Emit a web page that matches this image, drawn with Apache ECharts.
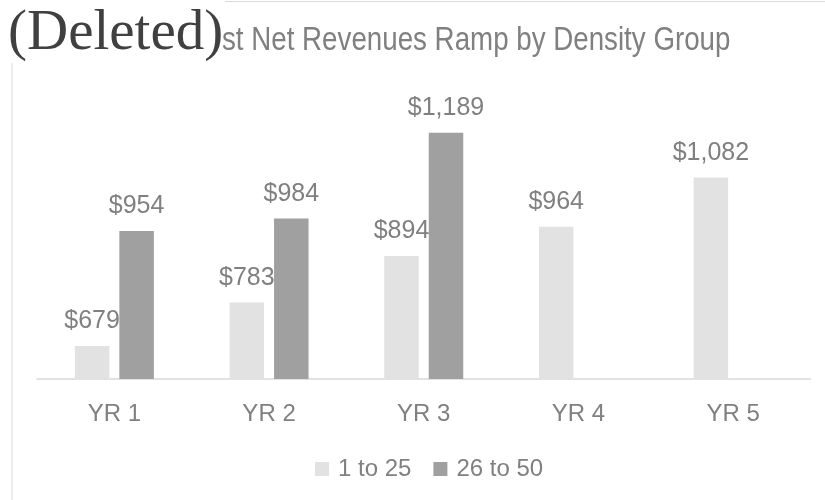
<!DOCTYPE html>
<html><head><meta charset="utf-8">
<script src="https://cdn.jsdelivr.net/npm/echarts@6/dist/echarts.min.js"></script>
<style>html,body{margin:0;padding:0;background:#fff}#c{width:825px;height:500px}</style>
</head><body><div id="c"></div>
<script>
const categories = ['YR 1', 'YR 2', 'YR 3', 'YR 4', 'YR 5'];
const seriesNames = ['1 to 25', '26 to 50'];
const group1to25 = [679, 783, 894, 964, 1082];
const group26to50 = [954, 984, 1189, null, null];
const titleText = 'st Net Revenues Ramp by Density Group';
const overlayText = '(Deleted)';

const fmt = p => '$' + Number(p.value).toLocaleString('en-US');
const labelStyle = { show: true, position: 'top', distance: 12, color: '#808080', fontSize: 25, fontFamily: 'Liberation Sans, Arial, sans-serif', formatter: fmt };

const chart = echarts.init(document.getElementById('c'), null, { renderer: 'canvas' });
chart.setOption({
  backgroundColor: '#fff',
  animation: false,
  grid: { left: 37, right: 14.5, top: 44.6, bottom: 121 },
  xAxis: {
    type: 'category', data: categories,
    axisLine: { lineStyle: { color: '#d9d9d9', width: 1.5 } },
    axisTick: { show: false },
    axisLabel: { color: '#808080', fontSize: 24, margin: 23, fontFamily: 'Liberation Sans, Arial, sans-serif' }
  },
  yAxis: { type: 'value', min: 600, max: 1400, show: false, splitLine: { show: false } },
  legend: {
    data: seriesNames, bottom: 19, left: 315, icon: 'rect', itemWidth: 14, itemHeight: 14, itemGap: 22, padding: 0,
    textStyle: { color: '#808080', fontSize: 24, padding: [0, 0, 0, 4], fontFamily: 'Liberation Sans, Arial, sans-serif' }
  },
  graphic: [
    { type: 'line', shape: { x1: 12, y1: 63, x2: 12, y2: 500 }, style: { stroke: '#d9d9d9', lineWidth: 1 } },
    { type: 'line', shape: { x1: 225, y1: 1.5, x2: 825, y2: 1.5 }, style: { stroke: '#d9d9d9', lineWidth: 1 } },
    { type: 'text', x: 222, y: 24, scaleX: 0.84, style: { text: titleText, fill: '#808080', font: '33px "Liberation Sans", Arial, sans-serif' } },
    { type: 'text', left: 8, top: 6, style: { text: overlayText, fill: '#404040', font: '57px "Liberation Serif", "Times New Roman", serif' } }
  ],
  series: [
    { name: seriesNames[0], type: 'bar', data: group1to25, barWidth: 34.5, barGap: '29%', itemStyle: { color: '#e2e2e2' }, label: labelStyle },
    { name: seriesNames[1], type: 'bar', data: group26to50, barWidth: 34.5, barGap: '29%', itemStyle: { color: '#a0a0a0' }, label: labelStyle }
  ]
});
</script></body></html>
